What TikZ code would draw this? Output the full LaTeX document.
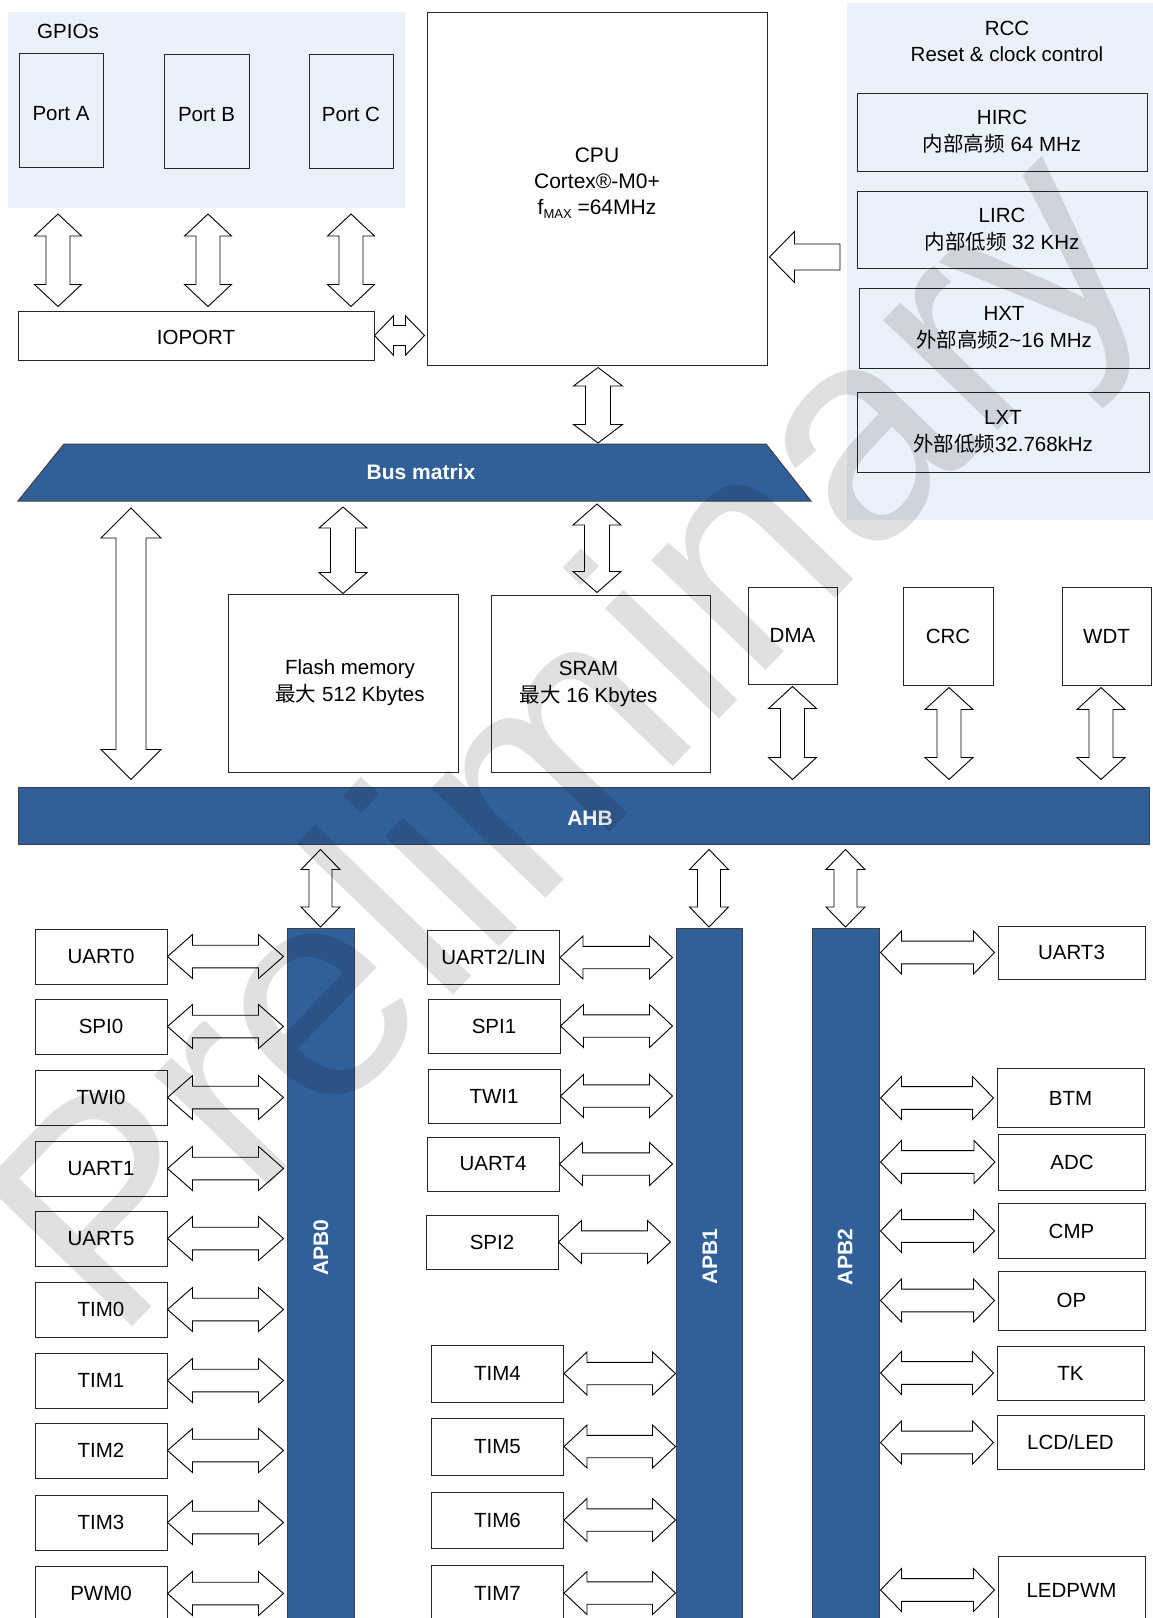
\documentclass[tikz,border=0pt]{standalone}
\usepackage{fontspec}
\setmainfont{Liberation Sans}
\newfontfamily\cjk{Noto Sans CJK SC}
\usetikzlibrary{calc}
\definecolor{bblue}{RGB}{49,95,153}
\definecolor{lblue}{RGB}{235,241,251}
\tikzset{
  box/.style={draw=black!85,line width=1pt,inner sep=0pt,align=center,
    font=\fontsize{20.5}{27}\selectfont},
  wbox/.style={box,fill=white},
  blk/.style={draw=black,line width=0.9pt,fill=white,line join=miter},
  bar/.style={draw=black!75,line width=1pt,fill=bblue,inner sep=0pt},
  btxt/.style={text=white,inner sep=0pt,font=\bfseries\fontsize{21}{25}\selectfont},
  plain/.style={inner sep=0pt,align=center,font=\fontsize{20.5}{25.5}\selectfont},
  wm/.style={inner sep=0pt,text=black,opacity=0.12,font=\fontsize{300}{300}\selectfont}
}
\newcommand{\lowr}[2]{\raisebox{-#1}[\height][0pt]{#2}}
% vertical double block arrow: x and top y from #1, bottom y from #2
\newcommand{\dblv}[5]{\draw[blk] let \p1=#1, \p2=#2 in
  (\x1,\y1) -- (\x1+#3,\y1-#5) -- (\x1+#4,\y1-#5) -- (\x1+#4,\y2+#5) -- (\x1+#3,\y2+#5)
  -- (\x1,\y2) -- (\x1-#3,\y2+#5) -- (\x1-#4,\y2+#5) -- (\x1-#4,\y1-#5) -- (\x1-#3,\y1-#5) -- cycle;}
% horizontal double block arrow: y and left x from #1, right x from #2
\newcommand{\dblh}[5]{\draw[blk] let \p1=#1, \p2=#2 in
  (\x1,\y1) -- (\x1+#5,\y1+#3) -- (\x1+#5,\y1+#4) -- (\x2-#5,\y1+#4) -- (\x2-#5,\y1+#3)
  -- (\x2,\y1) -- (\x2-#5,\y1-#3) -- (\x2-#5,\y1-#4) -- (\x1+#5,\y1-#4) -- (\x1+#5,\y1-#3) -- cycle;}
% single left-pointing block arrow: tip #1, tail x from #2
\newcommand{\sgll}[5]{\draw[blk] let \p1=#1, \p2=#2 in
  (\x1,\y1) -- (\x1+#5,\y1+#3) -- (\x1+#5,\y1+#4) -- (\x2,\y1+#4) -- (\x2,\y1-#4)
  -- (\x1+#5,\y1-#4) -- (\x1+#5,\y1-#3) -- cycle;}
\begin{document}
\begin{tikzpicture}[x=1pt,y=-1pt]
\clip (0,0) rectangle (1153,1618);
\fill[white] (0,0) rectangle (1153,1618);

% ---------- backgrounds ----------
\fill[lblue] (8,12) rectangle (405,208);
\fill[lblue] (847,3) rectangle (1153,520);

% ---------- GPIO ----------
\node[plain] (gpiot) at (68,31) {GPIOs};
\node[box,minimum width=84pt,minimum height=114pt] (pa) at (61,110) {\lowr{3pt}{Port A}};
\node[box,minimum width=85pt,minimum height=114pt] (pb) at (206.5,111) {\lowr{3pt}{Port B}};
\node[box,minimum width=84pt,minimum height=114pt] (pc) at (351,111) {\lowr{3pt}{Port C}};
\node[wbox,minimum width=356pt,minimum height=49pt] (io) at (196,335.5) {\lowr{2pt}{IOPORT}};

\coordinate (ga) at (58,214);
\coordinate (gb) at (208,214);
\coordinate (gc) at (351,214);
\dblv{(ga)}{($(io.north)+(0,-4)$)}{23.5pt}{12pt}{22pt}
\dblv{(gb)}{($(io.north)+(0,-4)$)}{23.5pt}{12pt}{22pt}
\dblv{(gc)}{($(io.north)+(0,-4)$)}{23.5pt}{12pt}{22pt}

% ---------- CPU ----------
\node[wbox,minimum width=340pt,minimum height=353pt,font=\fontsize{21}{26}\selectfont] (cpu) at (597,188.5)
  {CPU\\Cortex®-M0+\\f\raisebox{-4pt}{\fontsize{13}{13}\selectfont MAX} =64MHz\\[-12pt]\mbox{}};
\dblh{(io.east)}{($(cpu.west)+(-2,0)$)}{19.7pt}{10pt}{19pt}

% ---------- RCC ----------
\node[plain] (rcct) at (1007,41.5) {RCC\\Reset \& clock control};
\node[box,minimum width=290pt,minimum height=78pt] (hirc) at (1002,132) {HIRC\\{\cjk 内部高频} 64 MHz};
\node[box,minimum width=290pt,minimum height=77pt] (lirc) at (1002,229.5) {LIRC\\{\cjk 内部低频} 32 KHz};
\node[box,minimum width=290pt,minimum height=80pt] (hxt) at (1004,328) {HXT\\{\cjk 外部高频}2\textasciitilde16 MHz};
\node[box,minimum width=292pt,minimum height=80pt] (lxt) at (1003,432) {LXT\\{\cjk 外部低频}32.768kHz};
\coordinate (rcctail) at (840,257);
\sgll{($(cpu.east |- rcctail)+(2,0)$)}{(rcctail)}{25.5pt}{13pt}{25pt}

% ---------- Bus matrix ----------
\path[bar] (18,501) -- (64,444) -- (766,444) -- (811,501) -- cycle;
\coordinate (busn) at (414,444);
\coordinate (buss) at (414,501);
\node[btxt] (bust) at (421,472) {Bus matrix};
\dblv{($(cpu.south)+(1,2)$)}{($(busn)+(0,-1)$)}{24.5pt}{12.5pt}{18.5pt}

% ---------- memories, DMA, CRC, WDT ----------
\node[wbox,minimum width=230pt,minimum height=178pt] (flash) at (343,683)
  {\hspace*{14pt}Flash memory\\\hspace*{14pt}{\cjk 最大} 512 Kbytes};
\node[wbox,minimum width=219pt,minimum height=177pt] (sram) at (600.5,683.5)
  {SRAM\hspace*{24pt}\\{\cjk 最大} 16 Kbytes\hspace*{24pt}};
\node[wbox,minimum width=89pt,minimum height=97pt] (dma) at (792.5,635.5) {DMA};
\node[wbox,minimum width=90pt,minimum height=98pt] (crc) at (948,636) {CRC};
\node[wbox,minimum width=89pt,minimum height=98pt] (wdt) at (1106.5,636) {WDT};

% ---------- AHB ----------
\node[bar,minimum width=1131pt,minimum height=57pt] (ahb) at (583.5,815.5) {};
\node[btxt] (ahbt) at (590,818) {AHB};

\coordinate (bigtop) at (131,508);
\coordinate (fltop) at (343,507);
\coordinate (srtop) at (597,504);
\dblv{(bigtop)}{($(ahb.north)+(0,-7)$)}{30pt}{15pt}{30pt}
\dblv{(fltop)}{(flash.north)}{24pt}{12.5pt}{21pt}
\dblv{(srtop)}{($(sram.north)+(0,-2)$)}{24pt}{12.5pt}{21pt}
\dblv{($(dma.south)+(0,2)$)}{($(ahb.north)+(0,-7)$)}{24pt}{12pt}{22pt}
\dblv{($(crc.south)+(1,2)$)}{($(ahb.north)+(0,-7)$)}{24pt}{12pt}{22pt}
\dblv{($(wdt.south)+(-5.5,2)$)}{($(ahb.north)+(0,-7)$)}{24pt}{12pt}{22pt}

% ---------- APB bars ----------
\node[bar,minimum width=67pt,minimum height=720pt,anchor=north] (apb0) at (320.5,928) {};
\node[bar,minimum width=66pt,minimum height=720pt,anchor=north] (apb1) at (709,928) {};
\node[bar,minimum width=67pt,minimum height=720pt,anchor=north] (apb2) at (845.5,928) {};
\node[btxt,rotate=90] (apb0t) at (321,1247.5) {APB0};
\node[btxt,rotate=90] (apb1t) at (710,1256.5) {APB1};
\node[btxt,rotate=90] (apb2t) at (845,1257) {APB2};

\dblv{($(ahb.south -| apb0.north)+(0,5)$)}{($(apb0.north)+(0,-1)$)}{19.5pt}{11.5pt}{20pt}
\dblv{($(ahb.south -| apb1.north)+(0,5)$)}{($(apb1.north)+(0,-1)$)}{19.5pt}{11.5pt}{20pt}
\dblv{($(ahb.south -| apb2.north)+(0,5)$)}{($(apb2.north)+(0,-1)$)}{19.5pt}{11.5pt}{20pt}

% ---------- APB0 peripherals ----------
\foreach \nm/\tx/\yy in {l1/UART0/956.5,l2/SPI0/1026.5,l3/TWI0/1097.5,l4/UART1/1168.5,
  l5/UART5/1238.5,l6/TIM0/1309.5,l7/TIM1/1380.5,l8/TIM2/1450.5,l9/TIM3/1522.5,l10/PWM0/1593.5}{
  \node[wbox,minimum width=132pt,minimum height=55pt] (\nm) at (101,\yy) {\tx};
  \dblh{(\nm.east)}{($(apb0.west)+(-3,0)$)}{22pt}{11.3pt}{25pt}
}

% ---------- APB1 peripherals ----------
\foreach \nm/\tx/\xx/\yy/\hh/\gp in {m1/{UART2/LIN}/493.5/957.5/54/3,m2/SPI1/494/1026/54/3,
  m3/TWI1/494/1096/54/3,m4/UART4/493/1164/54/3,m5/SPI2/492/1242/54/5,
  m6/TIM4/497.5/1373.5/57/0,m7/TIM5/497.5/1446.5/57/0,m8/TIM6/497.5/1520/56/0,m9/TIM7/497.5/1593/56/0}{
  \node[wbox,minimum width=132pt,minimum height=\hh pt] (\nm) at (\xx,\yy) {\tx};
  \dblh{(\nm.east)}{($(apb1.west)+(-\gp,0)$)}{21.5pt}{11.2pt}{23pt}
}

% ---------- APB2 peripherals ----------
\foreach \nm/\tx/\xx/\yy/\hh in {r1/UART3/1071.5/952.5/53,r2/BTM/1070.5/1098/59,r3/ADC/1072/1162/56,
  r4/CMP/1071.5/1231/55,r5/OP/1071.5/1300.5/59,r6/TK/1070.5/1373/54,r7/{LCD/LED}/1070.5/1442.5/54,
  r8/LEDPWM/1071.5/1590/68}{
  \node[wbox,minimum width=147pt,minimum height=\hh pt] (\nm) at (\xx,\yy) {\tx};
  \coordinate (\nm s) at (apb2.east |- \nm.west);
  \dblh{($(\nm s)+(1,0)$)}{($(\nm.west)+(-3,0)$)}{21.5pt}{11.4pt}{21pt}
}

% ---------- watermark ----------
\node[wm,rotate=46,anchor=base west] (wmark) at (115,1345) {Preliminary};
\end{tikzpicture}
\end{document}
